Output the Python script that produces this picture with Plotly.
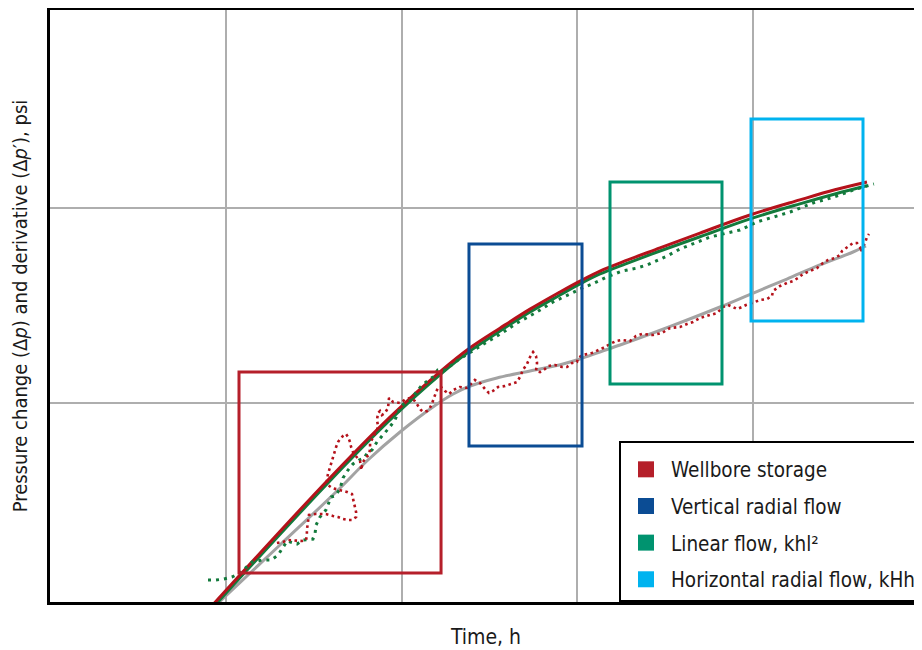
import plotly.graph_objects as go

# ---------------- data (time in h, pressure in psi) ----------------
# Pressure-change model curves (two nearly coincident models)
model_t = [0.0081, 0.0381, 0.086, 0.168, 0.246, 0.364, 0.54, 0.80, 1.04, 1.352,
           1.877, 2.97, 5.02, 9.68, 18.6, 29.5, 44.9]
model_red_p = [0.889, 4.03, 8.48, 14.6, 19.2, 24.2, 30.3, 37.1, 42.2, 47.5,
               53.5, 62.4, 74.4, 92.1, 110, 124, 136]
model_green_p = [0.86, 3.89, 8.18, 14.1, 18.5, 23.4, 29.3, 35.8, 40.8, 45.9,
                 51.6, 60.2, 71.2, 87.9, 105, 118, 130]

# Derivative model curve
deriv_model_t = [0.00854, 0.0203, 0.0435, 0.0644, 0.0981, 0.151, 0.197, 0.246, 0.350,
                 0.540, 0.832, 1.04, 1.35, 1.76, 2.71, 4.24, 6.53, 10.1, 15.7, 24.2,
                 37.4, 44.3]
deriv_model_p = [0.899, 1.870, 3.579, 5.103, 7.10, 9.539, 11.12, 12.22, 13.44,
                 14.59, 15.85, 16.81, 18.26, 19.83, 22.86, 26.65, 31.07, 36.65, 43.24,
                 51.03, 59.48, 63.85]

# Measured pressure change (dotted green)
press_t = [0.0079, 0.00877, 0.00974, 0.0108, 0.0120, 0.0130, 0.0141, 0.0160, 0.0181,
           0.0198, 0.0211, 0.0223, 0.0254, 0.0275, 0.0313, 0.0322, 0.0326, 0.0343,
           0.0371, 0.0397, 0.0418, 0.0446, 0.0464, 0.0496, 0.0529, 0.0573, 0.0611,
           0.0644, 0.0679, 0.0725, 0.0774, 0.0849, 0.0918, 0.0994, 0.109, 0.118,
           0.131, 0.151, 0.161, 0.177, 0.210, 0.252, 0.307, 0.374, 0.455, 0.577,
           0.730, 0.912, 1.04, 1.22, 1.48, 1.81, 2.20, 2.51, 3.26, 3.86, 4.83, 5.73,
           7.16, 8.49, 10.6, 13.1, 16.4, 18.7, 22.1, 26.6, 31.5, 37.4, 44.3, 49.2]
press_p = [1.237, 1.237, 1.251, 1.281, 1.344, 1.442, 1.530, 1.566, 1.566, 1.661,
           1.826, 1.960, 1.892, 1.983, 2.007, 2.154, 2.368, 2.602, 2.827, 3.296,
           3.336, 3.622, 4.125, 4.533, 4.867, 5.103, 5.224, 5.607, 5.741, 6.310,
           6.772, 7.443, 8.181, 9.652, 10.24, 10.99, 12.37, 13.59, 14.77, 14.77,
           16.61, 18.48, 20.55, 22.86, 25.72, 28.94, 32.96, 36.22, 38.42, 40.76,
           44.29, 47.53, 49.23, 51.03, 56.74, 61.62, 66.92, 71.00, 74.43, 77.12,
           84.79, 89.93, 95.39, 100, 106.1, 111.2, 116.6, 123.7, 129.7, 132.8]

# Measured pressure derivative (dotted red)
deriv_t = [0.0195, 0.0211, 0.0226, 0.0254, 0.0271, 0.0286, 0.0289, 0.0289, 0.0293,
           0.0297, 0.0322, 0.0343, 0.0371, 0.0407, 0.0435, 0.0464, 0.0496, 0.0522,
           0.0551, 0.0551, 0.0543, 0.0536, 0.0522, 0.0489, 0.0464, 0.0429, 0.0402,
           0.0381, 0.0376, 0.0381, 0.0391, 0.0402, 0.0407, 0.0418, 0.0424, 0.0435,
           0.0446, 0.0464, 0.0483, 0.0496, 0.0509, 0.0516, 0.0529, 0.0543, 0.0565,
           0.0580, 0.0588, 0.0588, 0.0604, 0.0628, 0.0653, 0.0662, 0.0662, 0.0679,
           0.0697, 0.0725, 0.0735, 0.0725, 0.0735, 0.0754, 0.0774, 0.0805, 0.0838,
           0.0849, 0.0849, 0.0895, 0.0981, 0.106, 0.113, 0.119, 0.124, 0.129, 0.134,
           0.140, 0.145, 0.149, 0.153, 0.157, 0.161, 0.168, 0.177, 0.187, 0.197,
           0.215, 0.236, 0.262, 0.280, 0.299, 0.315, 0.332, 0.355, 0.389, 0.426,
           0.455, 0.473, 0.492, 0.519, 0.540, 0.562, 0.584, 0.592, 0.584, 0.616,
           0.657, 0.684, 0.749, 0.821, 0.877, 0.937, 1.0, 1.013, 1.082, 1.218, 1.300,
           1.407, 1.542, 1.668, 1.805, 2.004, 2.169, 2.347, 2.711, 3.05, 3.388, 3.863,
           4.235, 4.581, 5.022, 5.577, 6.278, 6.790, 7.25, 7.742, 8.158, 8.713, 9.183,
           9.936, 11.03, 12.09, 12.91, 13.09, 14.35, 15.73, 17.01, 18.17, 19.40,
           21.27, 23.31, 25.22, 26.93, 29.52, 31.53, 32.36, 35.01, 37.38, 39.39,
           40.97, 41.52, 42.07, 43.75, 44.90, 46.11]
deriv_p = [1.915, 1.937, 1.983, 1.960, 1.960, 1.983, 2.104, 2.232, 2.453, 2.665,
           2.697, 2.697, 2.697, 2.633, 2.602, 2.542, 2.512, 2.512, 2.602, 2.761,
           2.929, 3.182, 3.415, 3.497, 3.538, 3.622, 3.665, 3.798, 4.029, 4.324,
           4.697, 4.983, 5.286, 5.674, 5.950, 6.310, 6.537, 6.772, 6.934, 6.692,
           6.310, 5.950, 5.607, 5.412, 5.224, 5.042, 4.753, 4.533, 4.983, 5.286,
           5.412, 5.810, 6.235, 6.537, 6.853, 7.269, 7.622, 8.181, 8.887, 9.099,
           8.680, 8.887, 9.427, 10.12, 10.61, 10.12, 10.0, 10.48, 10.61, 10.24,
           9.766, 9.207, 8.993, 9.099, 9.427, 9.882, 10.61, 11.39, 11.94, 12.08,
           11.52, 11.12, 11.66, 12.08, 11.94, 13.12, 12.66, 11.80, 11.25, 11.52,
           12.08, 12.22, 12.51, 12.81, 13.59, 14.77, 15.85, 17.21, 18.26, 17.42,
           16.04, 14.59, 14.42, 14.94, 15.48, 15.66, 15.30, 15.30, 16.04, 16.23,
           17.01, 17.63, 18.05, 18.48, 19.15, 20.07, 20.79, 21.04, 20.79, 22.06,
           22.58, 22.32, 22.86, 24.24, 24.53, 25.42, 26.02, 27.29, 27.94, 28.94,
           31.07, 31.82, 31.07, 30.34, 31.07, 31.82, 32.57, 33.75, 34.15, 35.38,
           37.53, 39.81, 41.25, 42.23, 43.75, 45.86, 47.53, 49.23, 52.24, 54.12,
           55.42, 57.41, 60.19, 63.10, 66.15, 66.15, 63.10, 59.48, 62.35, 66.15,
           71.00, 73.57]

# Flow-regime boxes
regime_labels = ["Wellbore storage", "Vertical radial flow",
                 "Linear flow, khl²", "Horizontal radial flow, kHh"]
regime_colors = ["#B51F2A", "#0B4C94", "#00936F", "#00B3EF"]
regime_t0 = [0.01186, 0.2424, 1.542, 9.806]
regime_t1 = [0.168, 1.068, 6.701, 42.62]
regime_p0 = [1.344, 6.019, 12.51, 26.33]
regime_p1 = [14.42, 65.37, 135.9, 285.9]

# grid decades
x_grid = [0.01, 0.1, 1, 10]
y_grid = [10, 100]

FONT = "DejaVu Sans Condensed, DejaVu Sans, sans-serif"
RED = "#B5121B"
GREEN_LINE = "#137A3C"
GRAY = "#A3A3A3"

fig = go.Figure()

fig.add_trace(go.Scatter(x=deriv_model_t, y=deriv_model_p, mode="lines",
                         line=dict(color=GRAY, width=3, shape="spline", smoothing=1.0),
                         showlegend=False, hoverinfo="skip"))
fig.add_trace(go.Scatter(x=model_t, y=model_green_p, mode="lines",
                         line=dict(color=GREEN_LINE, width=3, shape="spline", smoothing=1.0),
                         showlegend=False, hoverinfo="skip"))
fig.add_trace(go.Scatter(x=model_t, y=model_red_p, mode="lines",
                         line=dict(color=RED, width=3, shape="spline", smoothing=1.0),
                         showlegend=False, hoverinfo="skip"))
fig.add_trace(go.Scatter(x=press_t, y=press_p, mode="lines",
                         line=dict(color=GREEN_LINE, width=3, dash="3px,5px"),
                         showlegend=False, hoverinfo="skip"))
fig.add_trace(go.Scatter(x=deriv_t, y=deriv_p, mode="lines",
                         line=dict(color=RED, width=2.6, dash="2.6px,3.4px"),
                         showlegend=False, hoverinfo="skip"))

# legend entries (coloured squares)
for i, (lab, col) in enumerate(zip(regime_labels, regime_colors)):
    fig.add_trace(go.Scatter(x=[None], y=[None], mode="markers", name=lab,
                             legendgroup="g%d" % i,
                             marker=dict(symbol="square", size=16, color=col)))

# regime boxes
for col, t0, t1, p0, p1 in zip(regime_colors, regime_t0, regime_t1, regime_p0, regime_p1):
    fig.add_shape(type="rect", xref="x", yref="y", x0=t0, x1=t1, y0=p0, y1=p1,
                  line=dict(color=col, width=3), fillcolor="rgba(0,0,0,0)",
                  layer="above")

fig.update_layout(
    width=914, height=642,
    margin=dict(l=42, r=0, t=2, b=48),
    paper_bgcolor="white", plot_bgcolor="white",
    font=dict(family=FONT, size=21, color="#1A1A1A"),
    legend=dict(x=1, xanchor="right", y=0, yanchor="bottom",
                bgcolor="white", bordercolor="black", borderwidth=2,
                font=dict(size=20.5, color="#1A1A1A"), itemwidth=40,
                traceorder="grouped", tracegroupgap=7,
                title=dict(text=" ", font=dict(size=5))),
    xaxis=dict(type="log", range=[-3.0028, 1.9658], tickvals=x_grid,
               showticklabels=False, ticks="", showgrid=True,
               gridcolor="#AEAEAE", gridwidth=1.5, zeroline=False,
               showline=True, linecolor="black", linewidth=3, mirror=True,
               title=dict(text="Time, h", standoff=26,
                          font=dict(size=21, family=FONT)),
               automargin=False),
    yaxis=dict(type="log", range=[-0.0205, 3.0154], tickvals=y_grid,
               showticklabels=False, ticks="", showgrid=True,
               gridcolor="#AEAEAE", gridwidth=1.5, zeroline=False,
               showline=True, linecolor="black", linewidth=3, mirror=False,
               title=dict(text="Pressure change (Δ<i>p</i>) and derivative (Δ<i>p</i>′), psi",
                          standoff=17, font=dict(size=20, family=FONT)),
               automargin=False),
)

fig.write_html("out.html")
